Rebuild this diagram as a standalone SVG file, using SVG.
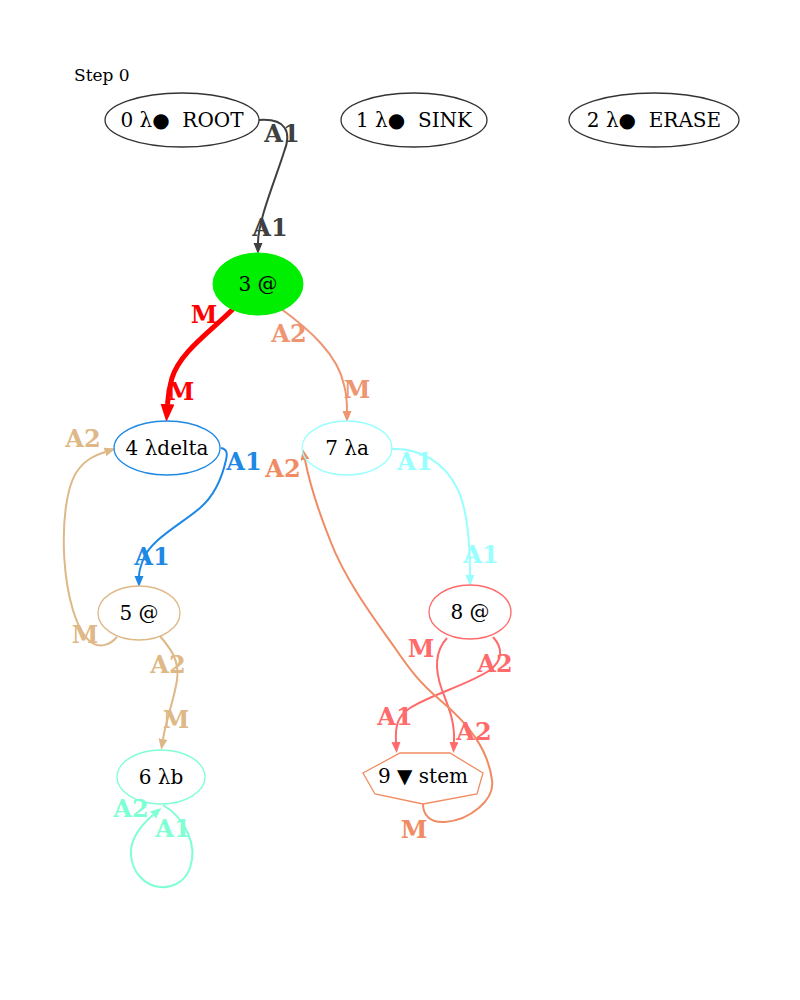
<svg xmlns="http://www.w3.org/2000/svg" width="800" height="1000" viewBox="0 0 800 1000">
<style>
.nl{font-family:"DejaVu Serif","Liberation Serif",serif;font-size:20px;text-anchor:middle;fill:#000;white-space:pre}
.el{font-family:"DejaVu Serif","Liberation Serif",serif;font-size:24px;font-weight:bold;text-anchor:middle}
.e{fill:none;stroke-width:2}
.thick{stroke-width:5}
</style>
<defs>
<marker id="ad" markerUnits="userSpaceOnUse" markerWidth="12" markerHeight="10" refX="0" refY="4.5" orient="auto"><path d="M0,0 L11,4.5 L0,9 z" fill="#404040"/></marker>
<marker id="ar" markerUnits="userSpaceOnUse" markerWidth="20" markerHeight="16" refX="0" refY="7" orient="auto"><path d="M0,0 L18,7 L0,14 z" fill="#ff0000"/></marker>
<marker id="as" markerUnits="userSpaceOnUse" markerWidth="12" markerHeight="10" refX="0" refY="4.5" orient="auto"><path d="M0,0 L11,4.5 L0,9 z" fill="#ee9572"/></marker>
<marker id="ab" markerUnits="userSpaceOnUse" markerWidth="12" markerHeight="10" refX="0" refY="4.5" orient="auto"><path d="M0,0 L11,4.5 L0,9 z" fill="#1e88e5"/></marker>
<marker id="at" markerUnits="userSpaceOnUse" markerWidth="12" markerHeight="10" refX="0" refY="4.5" orient="auto"><path d="M0,0 L11,4.5 L0,9 z" fill="#deb887"/></marker>
<marker id="aq" markerUnits="userSpaceOnUse" markerWidth="12" markerHeight="10" refX="0" refY="4.5" orient="auto"><path d="M0,0 L11,4.5 L0,9 z" fill="#7fffd4"/></marker>
<marker id="ac" markerUnits="userSpaceOnUse" markerWidth="12" markerHeight="10" refX="0" refY="4.5" orient="auto"><path d="M0,0 L11,4.5 L0,9 z" fill="#98ffff"/></marker>
<marker id="ai" markerUnits="userSpaceOnUse" markerWidth="12" markerHeight="10" refX="0" refY="4.5" orient="auto"><path d="M0,0 L11,4.5 L0,9 z" fill="#ff6a6a"/></marker>
<marker id="ao" markerUnits="userSpaceOnUse" markerWidth="12" markerHeight="10" refX="0" refY="4.5" orient="auto"><path d="M0,0 L11,4.5 L0,9 z" fill="#f08c64"/></marker>
</defs>
<rect width="800" height="1000" fill="#fff"/>
<text x="74" y="81" font-family="DejaVu Serif, serif" font-size="17">Step 0</text>

<g id="edges">
<path class="e" stroke="#404040" d="M259,120 C286,118 292,132 284,152 C276,178 258,220 258,243" marker-end="url(#ad)"/>
<path class="e thick" stroke="#ff0000" d="M233,309 C210,332 180,352 172,378 C169,388 168,396 167.5,404" marker-end="url(#ar)"/>
<path class="e" stroke="#ee9572" d="M280,308 C310,330 338,355 344,385 C347,395 347,403 347,411" marker-end="url(#as)"/>
<path class="e" stroke="#1e88e5" d="M221,448 C226,449 228,452 226,460 C222,478 215,495 200,508 C180,525 150,540 143,560 C140,568 139,572 139,576" marker-end="url(#ab)"/>
<path class="e" stroke="#deb887" d="M117,637 C110,645 100,648 92,643 C60,620 55,500 78,470 C86,459 96,455 105,452" marker-end="url(#at)"/>
<path class="e" stroke="#deb887" d="M160,636 C170,648 180,660 177,680 C174,700 166,720 163,739" marker-end="url(#at)"/>
<path class="e" stroke="#7fffd4" d="M163,805 C185,818 198,845 190,868 C184,884 170,888 160,887 C145,886 132,872 131,855 C130,840 140,826 153,815" marker-end="url(#aq)"/>
<path class="e" stroke="#98ffff" d="M392,449 C420,448 445,462 458,490 C468,512 470,545 470,575" marker-end="url(#ac)"/>
<path class="e" stroke="#ff6a6a" d="M447,638 C436,650 434,668 442,690 C449,708 455,722 454,742" marker-end="url(#ai)"/>
<path class="e" stroke="#ff6a6a" d="M493,637 C503,648 503,660 490,670 C470,684 430,695 410,708 C398,716 395,725 396,742" marker-end="url(#ai)"/>
<path class="e" stroke="#f08c64" d="M423,804 C423,815 430,823 445,822 C470,820 495,800 492,780 C488,750 470,725 440,700 C420,683 410,670 395,648 C375,620 345,580 330,540 C318,510 310,485 305,460" marker-end="url(#ao)"/>

<text class="el" fill="#404040" x="282" y="142">A1</text>
<text class="el" fill="#404040" x="270" y="236">A1</text>
<text class="el" fill="#ff0000" x="204" y="323">M</text>
<text class="el" fill="#ff0000" x="181" y="400">M</text>
<text class="el" fill="#ee9572" x="289" y="342">A2</text>
<text class="el" fill="#ee9572" x="357" y="398">M</text>
<text class="el" fill="#1e88e5" x="244" y="470">A1</text>
<text class="el" fill="#1e88e5" x="152" y="565">A1</text>
<text class="el" fill="#deb887" x="83" y="447">A2</text>
<text class="el" fill="#deb887" x="85" y="643">M</text>
<text class="el" fill="#deb887" x="168" y="673">A2</text>
<text class="el" fill="#deb887" x="176" y="728">M</text>
<text class="el" fill="#7fffd4" x="131" y="817">A2</text>
<text class="el" fill="#7fffd4" x="173" y="837">A1</text>
<text class="el" fill="#98ffff" x="415" y="470">A1</text>
<text class="el" fill="#98ffff" x="481" y="563">A1</text>
<text class="el" fill="#ff6a6a" x="421" y="657">M</text>
<text class="el" fill="#ff6a6a" x="474" y="740">A2</text>
<text class="el" fill="#ff6a6a" x="495" y="672">A2</text>
<text class="el" fill="#ff6a6a" x="395" y="725">A1</text>
<text class="el" fill="#f08c64" x="414" y="838">M</text>
<text class="el" fill="#f08c64" x="283" y="477">A2</text>
</g>

<g id="n0"><ellipse cx="182" cy="120" rx="77" ry="27" fill="none" stroke="#333" stroke-width="1.3"/><text class="nl" x="182" y="127">0 λ●  ROOT</text></g>
<g id="n1"><ellipse cx="414" cy="120" rx="73" ry="27" fill="none" stroke="#333" stroke-width="1.3"/><text class="nl" x="414" y="127">1 λ●  SINK</text></g>
<g id="n2"><ellipse cx="654" cy="120" rx="85" ry="27" fill="none" stroke="#333" stroke-width="1.3"/><text class="nl" x="654" y="127">2 λ●  ERASE</text></g>
<g id="n3"><ellipse cx="258" cy="284" rx="45" ry="31" fill="#00ee00" stroke="#00ee00"/><text class="nl" x="258" y="291">3 @</text></g>
<g id="n4"><ellipse cx="167" cy="448" rx="53" ry="27" fill="none" stroke="#1e88e5" stroke-width="1.3"/><text class="nl" x="167" y="455">4 λdelta</text></g>
<g id="n5"><ellipse cx="139" cy="613" rx="41" ry="27" fill="none" stroke="#deb887" stroke-width="1.3"/><text class="nl" x="139" y="620">5 @</text></g>
<g id="n6"><ellipse cx="161" cy="777" rx="44" ry="27" fill="none" stroke="#7fffd4" stroke-width="1.3"/><text class="nl" x="161" y="784">6 λb</text></g>
<g id="n7"><ellipse cx="347" cy="448" rx="45" ry="27" fill="none" stroke="#98ffff" stroke-width="1.3"/><text class="nl" x="347" y="455">7 λa</text></g>
<g id="n8"><ellipse cx="470" cy="612" rx="41" ry="27" fill="none" stroke="#ff6a6a" stroke-width="1.3"/><text class="nl" x="470" y="619">8 @</text></g>
<g id="n9"><polygon points="400,753 450,753 483,773 477,794 423,804 375,794 363,773" fill="none" stroke="#f08c64" stroke-width="1.3"/><text class="nl" x="423" y="783">9 ▼ stem</text></g>
</svg>
